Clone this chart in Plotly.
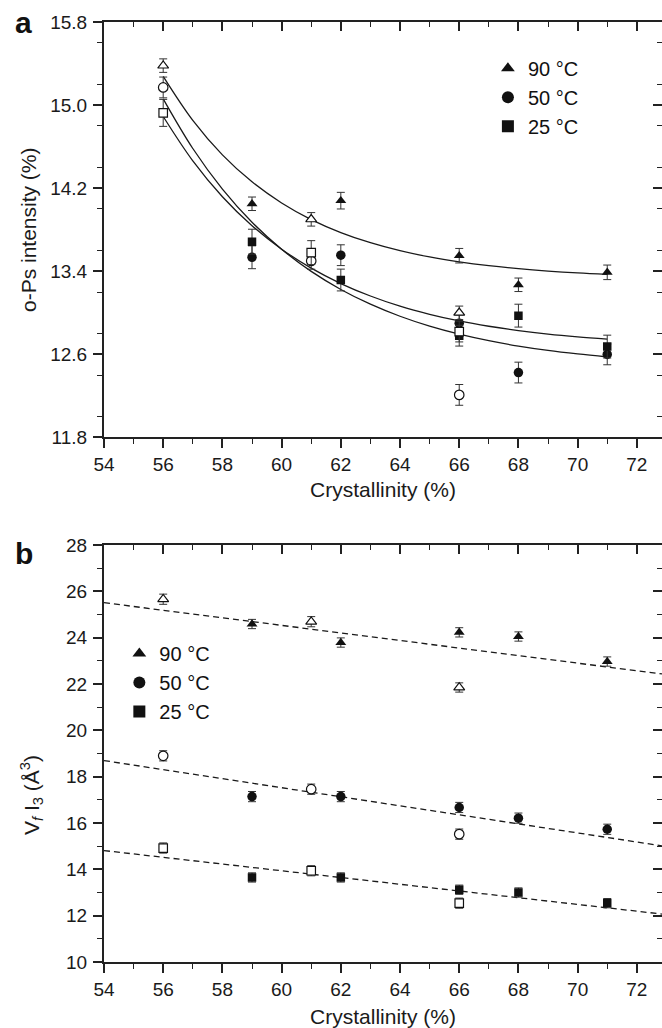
import plotly.graph_objects as go

# ---------------- data ----------------
# Panel a: o-Ps intensity (%)
a90_x = [59, 62, 66, 68, 71]
a90_y = [14.05, 14.08, 13.55, 13.27, 13.39]
a90_e = [0.065, 0.08, 0.07, 0.065, 0.07]
a90o_x = [56, 61, 66]
a90o_y = [15.38, 13.90, 13.00]
a90o_e = [0.065, 0.065, 0.065]

a50_x = [59, 62, 66, 68, 71]
a50_y = [13.535, 13.555, 12.90, 12.425, 12.60]
a50_e = [0.11, 0.10, 0.08, 0.10, 0.10]
a50o_x = [56, 61, 66]
a50o_y = [15.17, 13.50, 12.21]
a50o_e = [0.10, 0.08, 0.10]

a25_x = [59, 62, 66, 68, 71]
a25_y = [13.685, 13.316, 12.78, 12.973, 12.675]
a25_e = [0.12, 0.105, 0.10, 0.11, 0.11]
a25o_x = [56, 61, 66]
a25o_y = [14.925, 13.58, 12.82]
a25o_e = [0.13, 0.115, 0.10]

# fitted decay curves
fit_x = [56, 57, 58, 59, 60, 61, 62, 63, 64, 65, 66, 67, 68, 69, 70, 71]
fit_a90 = [15.277, 14.853, 14.521, 14.261, 14.058, 13.898, 13.773, 13.675,
           13.598, 13.538, 13.491, 13.454, 13.425, 13.402, 13.384, 13.370]
fit_a50 = [15.060, 14.582, 14.191, 13.872, 13.612, 13.399, 13.225, 13.083,
           12.967, 12.872, 12.795, 12.732, 12.680, 12.638, 12.604, 12.575]
fit_a25 = [14.890, 14.463, 14.118, 13.839, 13.613, 13.430, 13.282, 13.162,
           13.064, 12.986, 12.922, 12.871, 12.829, 12.795, 12.768, 12.746]

# Panel b: Vf I3 (Å^3)
b90_x = [59, 62, 66, 68, 71]
b90_y = [24.59, 23.79, 24.23, 24.05, 22.97]
b90_e = [0.2, 0.2, 0.2, 0.2, 0.2]
b90o_x = [56, 61, 66]
b90o_y = [25.66, 24.69, 21.85]
b90o_e = [0.22, 0.22, 0.2]

b50_x = [59, 62, 66, 68, 71]
b50_y = [17.14, 17.14, 16.67, 16.21, 15.73]
b50_e = [0.22, 0.22, 0.22, 0.22, 0.22]
b50o_x = [56, 61, 66]
b50o_y = [18.90, 17.46, 15.52]
b50o_e = [0.22, 0.22, 0.22]

b25_x = [59, 62, 66, 68, 71]
b25_y = [13.65, 13.65, 13.12, 13.00, 12.54]
b25_e = [0.2, 0.2, 0.2, 0.2, 0.2]
b25o_x = [56, 61, 66]
b25o_y = [14.92, 13.94, 12.54]
b25o_e = [0.22, 0.22, 0.22]

lin_x = [54, 72.85]
lin_b90 = [25.51, 22.435]
lin_b50 = [18.695, 15.015]
lin_b25 = [14.81, 12.07]

labels = ["90 °C", "50 °C", "25 °C"]
x_range = [54, 72.85]
ya_range = [11.8, 15.8]
yb_range = [10, 28]

# ---------------- style ----------------
FONT = "Liberation Sans, Arial, Helvetica, sans-serif"
INK = "#1a1a1a"
SYM = {"90": "triangle-up", "50": "circle", "25": "square"}
SIZE = {"90": 9.5, "50": 9.5, "25": 8.5}

fig = go.Figure()


def err(arr):
    return dict(type="data", array=arr, visible=True, color="#333",
                thickness=1, width=4)


def add_pts(x, y, e, key, filled, xa, ya, name=None, legend=None):
    if filled:
        marker = dict(symbol=SYM[key], size=SIZE[key], color="#111",
                      line=dict(width=0))
    else:
        marker = dict(symbol=SYM[key], size=SIZE[key], color="white",
                      line=dict(width=1.2, color="#111"))
    fig.add_trace(go.Scatter(
        x=x, y=y, mode="markers", marker=marker, error_y=err(e),
        xaxis=xa, yaxis=ya, name=name,
        showlegend=name is not None,
        legend=legend if legend else "legend",
        hoverinfo="x+y"))


def add_line(x, y, xa, ya, dash="solid", shape="linear"):
    fig.add_trace(go.Scatter(
        x=x, y=y, mode="lines",
        line=dict(color="#1a1a1a", width=1.3, dash=dash, shape=shape),
        xaxis=xa, yaxis=ya, showlegend=False, hoverinfo="skip"))


# panel a curves
add_line(fit_x, fit_a90, "x", "y", shape="spline")
add_line(fit_x, fit_a50, "x", "y", shape="spline")
add_line(fit_x, fit_a25, "x", "y", shape="spline")

# panel a points
add_pts(a90_x, a90_y, a90_e, "90", True, "x", "y", labels[0], "legend")
add_pts(a50_x, a50_y, a50_e, "50", True, "x", "y", labels[1], "legend")
add_pts(a25_x, a25_y, a25_e, "25", True, "x", "y", labels[2], "legend")
add_pts(a90o_x, a90o_y, a90o_e, "90", False, "x", "y")
add_pts(a50o_x, a50o_y, a50o_e, "50", False, "x", "y")
add_pts(a25o_x, a25o_y, a25o_e, "25", False, "x", "y")

# panel b lines
add_line(lin_x, lin_b90, "x2", "y2", dash="6px,4px")
add_line(lin_x, lin_b50, "x2", "y2", dash="6px,4px")
add_line(lin_x, lin_b25, "x2", "y2", dash="6px,4px")

# panel b points
add_pts(b90_x, b90_y, b90_e, "90", True, "x2", "y2", labels[0], "legend2")
add_pts(b50_x, b50_y, b50_e, "50", True, "x2", "y2", labels[1], "legend2")
add_pts(b25_x, b25_y, b25_e, "25", True, "x2", "y2", labels[2], "legend2")
add_pts(b90o_x, b90o_y, b90o_e, "90", False, "x2", "y2")
add_pts(b50o_x, b50o_y, b50o_e, "50", False, "x2", "y2")
add_pts(b25o_x, b25o_y, b25o_e, "25", False, "x2", "y2")

# empty traces so the mirror (inside-tick) axes get drawn
for xa, ya in [("x3", "y3"), ("x4", "y4")]:
    fig.add_trace(go.Scatter(x=[None], y=[None], xaxis=xa, yaxis=ya,
                             showlegend=False, hoverinfo="skip"))

base = dict(showline=True, linewidth=2, linecolor="#222", ticks="outside",
            ticklen=9, tickwidth=1.6, tickcolor="#222", showgrid=False,
            zeroline=False, tickfont=dict(size=19, color=INK, family=FONT))


def minor(d, inside=False):
    return dict(dtick=d, ticks="inside" if inside else "outside", ticklen=5,
                tickwidth=1.3, tickcolor="#222", showgrid=False)


title_font = dict(size=21, color=INK, family=FONT)

# domains
dom_a = [0.558, 1.0]
dom_b = [0.0, 0.4436]

fig.update_layout(
    width=662, height=1028,
    margin=dict(l=104, r=0, t=22, b=66),
    paper_bgcolor="white", plot_bgcolor="white",
    font=dict(family=FONT, size=19, color=INK),
    xaxis=dict(base, domain=[0, 1], anchor="y", range=x_range, tick0=54,
               dtick=2, minor=minor(1),
               title=dict(text="Crystallinity (%)", font=title_font,
                          standoff=8)),
    yaxis=dict(base, domain=dom_a, anchor="x", range=ya_range, tick0=11.8,
               dtick=0.8, tickformat=".1f", minor=minor(0.4),
               ticklabelstandoff=2,
               title=dict(text="o-Ps intensity (%)", font=title_font,
                          standoff=8)),
    xaxis2=dict(base, domain=[0, 1], anchor="y2", range=x_range, tick0=54,
                dtick=2, minor=minor(1),
                title=dict(text="Crystallinity (%)", font=title_font,
                           standoff=11)),
    yaxis2=dict(base, domain=dom_b, anchor="x2", range=yb_range, tick0=10,
                dtick=2, minor=minor(1), ticklabelstandoff=2),
    xaxis3=dict(base, overlaying="x", anchor="y", side="top", range=x_range,
                tick0=54, dtick=2, ticks="inside", showticklabels=False,
                minor=minor(1, True)),
    yaxis3=dict(base, overlaying="y", anchor="x", side="right",
                range=ya_range, tick0=11.8, dtick=0.8, ticks="inside",
                showticklabels=False, minor=minor(0.4, True)),
    xaxis4=dict(base, overlaying="x2", anchor="y2", side="top", range=x_range,
                tick0=54, dtick=2, ticks="inside", showticklabels=False,
                minor=minor(1, True)),
    yaxis4=dict(base, overlaying="y2", anchor="x2", side="right",
                range=yb_range, tick0=10, dtick=2, ticks="inside",
                showticklabels=False, minor=minor(1, True)),
    legend=dict(x=0.688, y=0.9715, xanchor="left", yanchor="top",
                font=dict(size=20, color="#111", family=FONT),
                bgcolor="rgba(0,0,0,0)", itemsizing="constant",
                traceorder="normal"),
    legend2=dict(x=0.0275, y=0.349, xanchor="left", yanchor="top",
                 font=dict(size=20, color="#111", family=FONT),
                 bgcolor="rgba(0,0,0,0)", itemsizing="constant",
                 traceorder="normal"),
    annotations=[
        dict(text="<b>a</b>", xref="paper", yref="paper", x=-0.163,
             y=0.999, xanchor="left", yanchor="middle", showarrow=False,
             font=dict(size=30, color="#111", family=FONT)),
        dict(text="<b>b</b>", xref="paper", yref="paper", x=-0.163,
             y=0.435, xanchor="left", yanchor="middle", showarrow=False,
             font=dict(size=30, color="#111", family=FONT)),
        dict(text="V<sub><i>f</i></sub> I<sub>3</sub> (Å<sup>3</sup>)",
             xref="paper", yref="paper", x=-0.129, y=0.1777,
             xanchor="center", yanchor="middle", textangle=-90,
             showarrow=False, font=title_font),
    ],
)

fig.write_html("out.html")
